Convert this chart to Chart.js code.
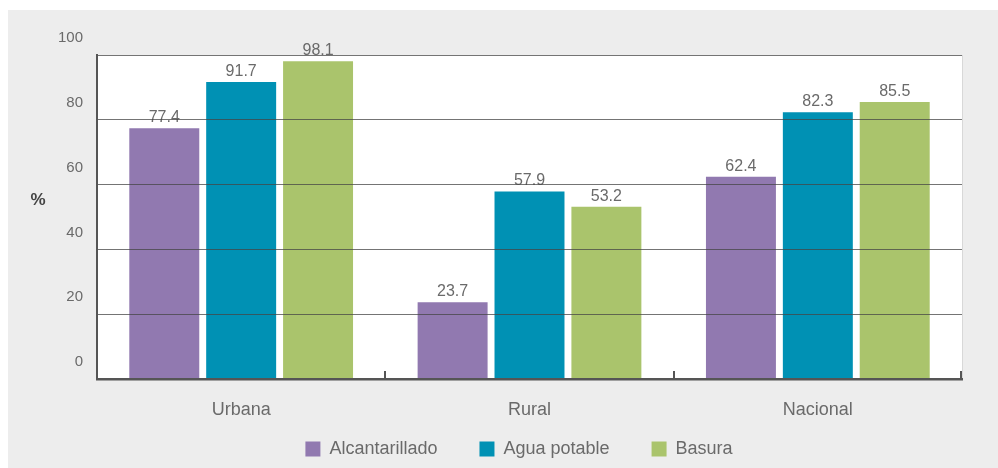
<!DOCTYPE html>
<html>
<head>
<meta charset="utf-8">
<script src="https://cdn.jsdelivr.net/npm/chart.js@4/dist/chart.umd.min.js"></script>
<style>
  html, body { margin: 0; padding: 0; background: #ffffff; }
  #wrap { width: 998px; height: 468px; position: relative; }
</style>
</head>
<body>
<div id="wrap"><canvas id="c" width="998" height="468"></canvas></div>
<script>
const categories = ['Urbana', 'Rural', 'Nacional'];
const alcantarillado = [77.4, 23.7, 62.4];
const aguaPotable = [91.7, 57.9, 82.3];
const basura = [98.1, 53.2, 85.5];
const seriesNames = ['Alcantarillado', 'Agua potable', 'Basura'];
const yTickValues = [0, 20, 40, 60, 80, 100];
const yAxisTitle = '%';

const FONT = "'Liberation Sans', Arial, Helvetica, sans-serif";
const TEXT = '#6a6a6a';

const backgroundPlugin = {
  id: 'bg',
  afterLayout(chart) {
    if (chart.legend) { chart.legend.left += 18; chart.legend.right += 18; }
  },
  beforeDraw(chart) {
    const ctx = chart.ctx;
    const a = chart.chartArea;
    ctx.save();
    ctx.fillStyle = '#ededed';
    ctx.fillRect(8, 10, chart.width - 8, chart.height - 10);
    ctx.fillStyle = '#ffffff';
    ctx.fillRect(a.left, a.top, a.right - a.left, a.bottom - a.top);
    ctx.strokeStyle = '#d8d8d8';
    ctx.lineWidth = 1;
    ctx.beginPath();
    ctx.moveTo(a.right + 0.5, a.top);
    ctx.lineTo(a.right + 0.5, a.bottom);
    ctx.stroke();
    ctx.restore();
  }
};

const decorPlugin = {
  id: 'decor',
  afterDatasetsDraw(chart) {
    const ctx = chart.ctx;
    ctx.save();
    ctx.font = '16px ' + FONT;
    ctx.fillStyle = TEXT;
    ctx.textAlign = 'center';
    ctx.textBaseline = 'alphabetic';
    chart.data.datasets.forEach((ds, di) => {
      const meta = chart.getDatasetMeta(di);
      meta.data.forEach((bar, i) => {
        ctx.fillText(ds.data[i].toFixed(1), bar.x, bar.y - 6);
      });
    });
    ctx.restore();
  },
  afterDraw(chart) {
    const ctx = chart.ctx;
    const a = chart.chartArea;
    const x = chart.scales.x;
    ctx.save();
    ctx.strokeStyle = '#555555';
    ctx.lineWidth = 2;
    const bounds = [];
    for (let i = 1; i < categories.length; i++) bounds.push(x.getPixelForValue(i - 0.5));
    bounds.push(a.right - 1);
    ctx.beginPath();
    bounds.forEach(px => {
      ctx.moveTo(Math.round(px), a.bottom);
      ctx.lineTo(Math.round(px), a.bottom - 8);
    });
    ctx.stroke();
    ctx.font = 'bold 17px ' + FONT;
    ctx.fillStyle = '#444444';
    ctx.textAlign = 'center';
    ctx.textBaseline = 'middle';
    ctx.fillText(yAxisTitle, 38, 200);
    ctx.restore();
  }
};

new Chart(document.getElementById('c'), {
  type: 'bar',
  data: {
    labels: categories,
    datasets: [
      { label: seriesNames[0], data: alcantarillado, backgroundColor: '#9179b0' },
      { label: seriesNames[1], data: aguaPotable, backgroundColor: '#0091b4' },
      { label: seriesNames[2], data: basura, backgroundColor: '#aac46c' }
    ]
  },
  options: {
    responsive: false,
    animation: false,
    devicePixelRatio: 1,
    layout: { padding: { top: 55, left: 40, right: 36, bottom: 0 } },
    datasets: {
      bar: { categoryPercentage: 0.8, barPercentage: 0.91, borderWidth: 0 }
    },
    plugins: {
      legend: {
        position: 'bottom',
        maxHeight: 72,
        labels: {
          boxWidth: 15,
          boxHeight: 15,
          padding: 42,
          color: TEXT,
          font: { family: FONT, size: 18 }
        }
      },
      tooltip: { enabled: false }
    },
    scales: {
      x: {
        grid: { display: false },
        border: { display: true, color: '#555555', width: 2.5, z: 3 },
        ticks: { color: TEXT, font: { family: FONT, size: 18 }, mirror: true, padding: -42 },
        afterFit: s => { s.height = 19; }
      },
      y: {
        min: 0,
        max: 100,
        afterBuildTicks: s => { s.ticks = yTickValues.map(v => ({ value: v })); },
        grid: {
          z: 1,
          drawTicks: false,
          color: ctx => (ctx.tick && ctx.tick.value === 0) ? 'rgba(0,0,0,0)' : 'rgba(70,70,70,0.75)',
          lineWidth: 1
        },
        border: { display: true, color: '#555555', width: 2, z: 2 },
        ticks: {
          color: TEXT,
          font: { family: FONT, size: 15 },
          padding: 14,
          labelOffset: -17
        },
        afterFit: s => { s.width = 57; }
      }
    }
  },
  plugins: [backgroundPlugin, decorPlugin]
});
</script>
</body>
</html>
